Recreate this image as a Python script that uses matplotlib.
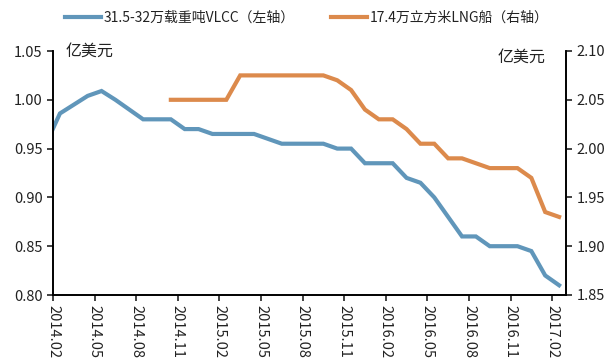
import matplotlib
matplotlib.use("Agg")
import matplotlib.pyplot as plt
import numpy as np

plt.rcParams['font.family'] = ['Noto Sans CJK SC', 'DejaVu Sans']

# month labels, one category per month (2014.02 - 2017.02)
tick_labels = ["2014.02", "2014.05", "2014.08", "2014.11", "2015.02", "2015.05",
               "2015.08", "2015.11", "2016.02", "2016.05", "2016.08", "2016.11", "2017.02"]

# VLCC price, 100m USD, from 2014.01 (first point sits left of the axis) to 2017.02
vlcc = [0.955, 0.986, 0.995, 1.004, 1.009, 1.0, 0.99, 0.98, 0.98, 0.98, 0.97, 0.97,
        0.965, 0.965, 0.965, 0.965, 0.96, 0.955, 0.955, 0.955, 0.955, 0.95, 0.95,
        0.935, 0.935, 0.935, 0.92, 0.915, 0.90, 0.88, 0.86, 0.86, 0.85, 0.85, 0.85,
        0.845, 0.82, 0.81]

# LNG carrier price, 100m USD, from 2014.10 to 2017.02
lng = [2.05, 2.05, 2.05, 2.05, 2.05, 2.075, 2.075, 2.075, 2.075, 2.075, 2.075,
       2.075, 2.07, 2.06, 2.04, 2.03, 2.03, 2.02, 2.005, 2.005, 1.99, 1.99,
       1.985, 1.98, 1.98, 1.98, 1.97, 1.935, 1.93]

blue = '#6096BA'
orange = '#DC8A4C'

fig = plt.figure(figsize=(6.14, 3.64), dpi=100)
ax = fig.add_axes([53 / 614, 1 - 295 / 364, 513 / 614, 244 / 364])
ax2 = ax.twinx()

x_vlcc = np.arange(len(vlcc)) - 0.5
x_lng = np.arange(len(lng)) + 8.5

l1, = ax.plot(x_vlcc, vlcc, color=blue, lw=3, solid_joinstyle='miter')
l2, = ax2.plot(x_lng, lng, color=orange, lw=3, solid_joinstyle='miter')

ax.set_xlim(0, 37)
ax.set_ylim(0.80, 1.05)
ax2.set_ylim(1.85, 2.10)
ax.set_yticks(np.arange(0.80, 1.051, 0.05))
ax2.set_yticks(np.arange(1.85, 2.101, 0.05))
ax.set_yticklabels([f"{v:.2f}" for v in np.arange(0.80, 1.051, 0.05)])
ax2.set_yticklabels([f"{v:.2f}" for v in np.arange(1.85, 2.101, 0.05)])
ax.set_xticks(np.arange(0, 37, 3))
ax.set_xticklabels(tick_labels, rotation=270, va='top', ha='center')

for a in (ax, ax2):
    a.spines['top'].set_visible(False)
    for s in a.spines.values():
        s.set_linewidth(1.2)
    a.tick_params(direction='out', length=4, width=1.2, labelsize=10.5, colors='#222222')

ax.text(0.025, 1.0, "亿美元", transform=ax.transAxes, fontsize=11.5, va='center', ha='left', color='#222222')
ax2.text(0.96, 0.975, "亿美元", transform=ax.transAxes, fontsize=11.5, va='center', ha='right', color='#222222')

leg = fig.legend([l1, l2], ["31.5-32万载重吨VLCC（左轴）", "17.4万立方米LNG船（右轴）"],
                 loc='center', bbox_to_anchor=(0.5, 1 - 18 / 364), ncol=2, frameon=False,
                 fontsize=10, handlelength=2.6, columnspacing=2.6, handletextpad=0.2)
for t in leg.get_texts():
    t.set_color('#222222')

fig.savefig("out.png", dpi=100)
